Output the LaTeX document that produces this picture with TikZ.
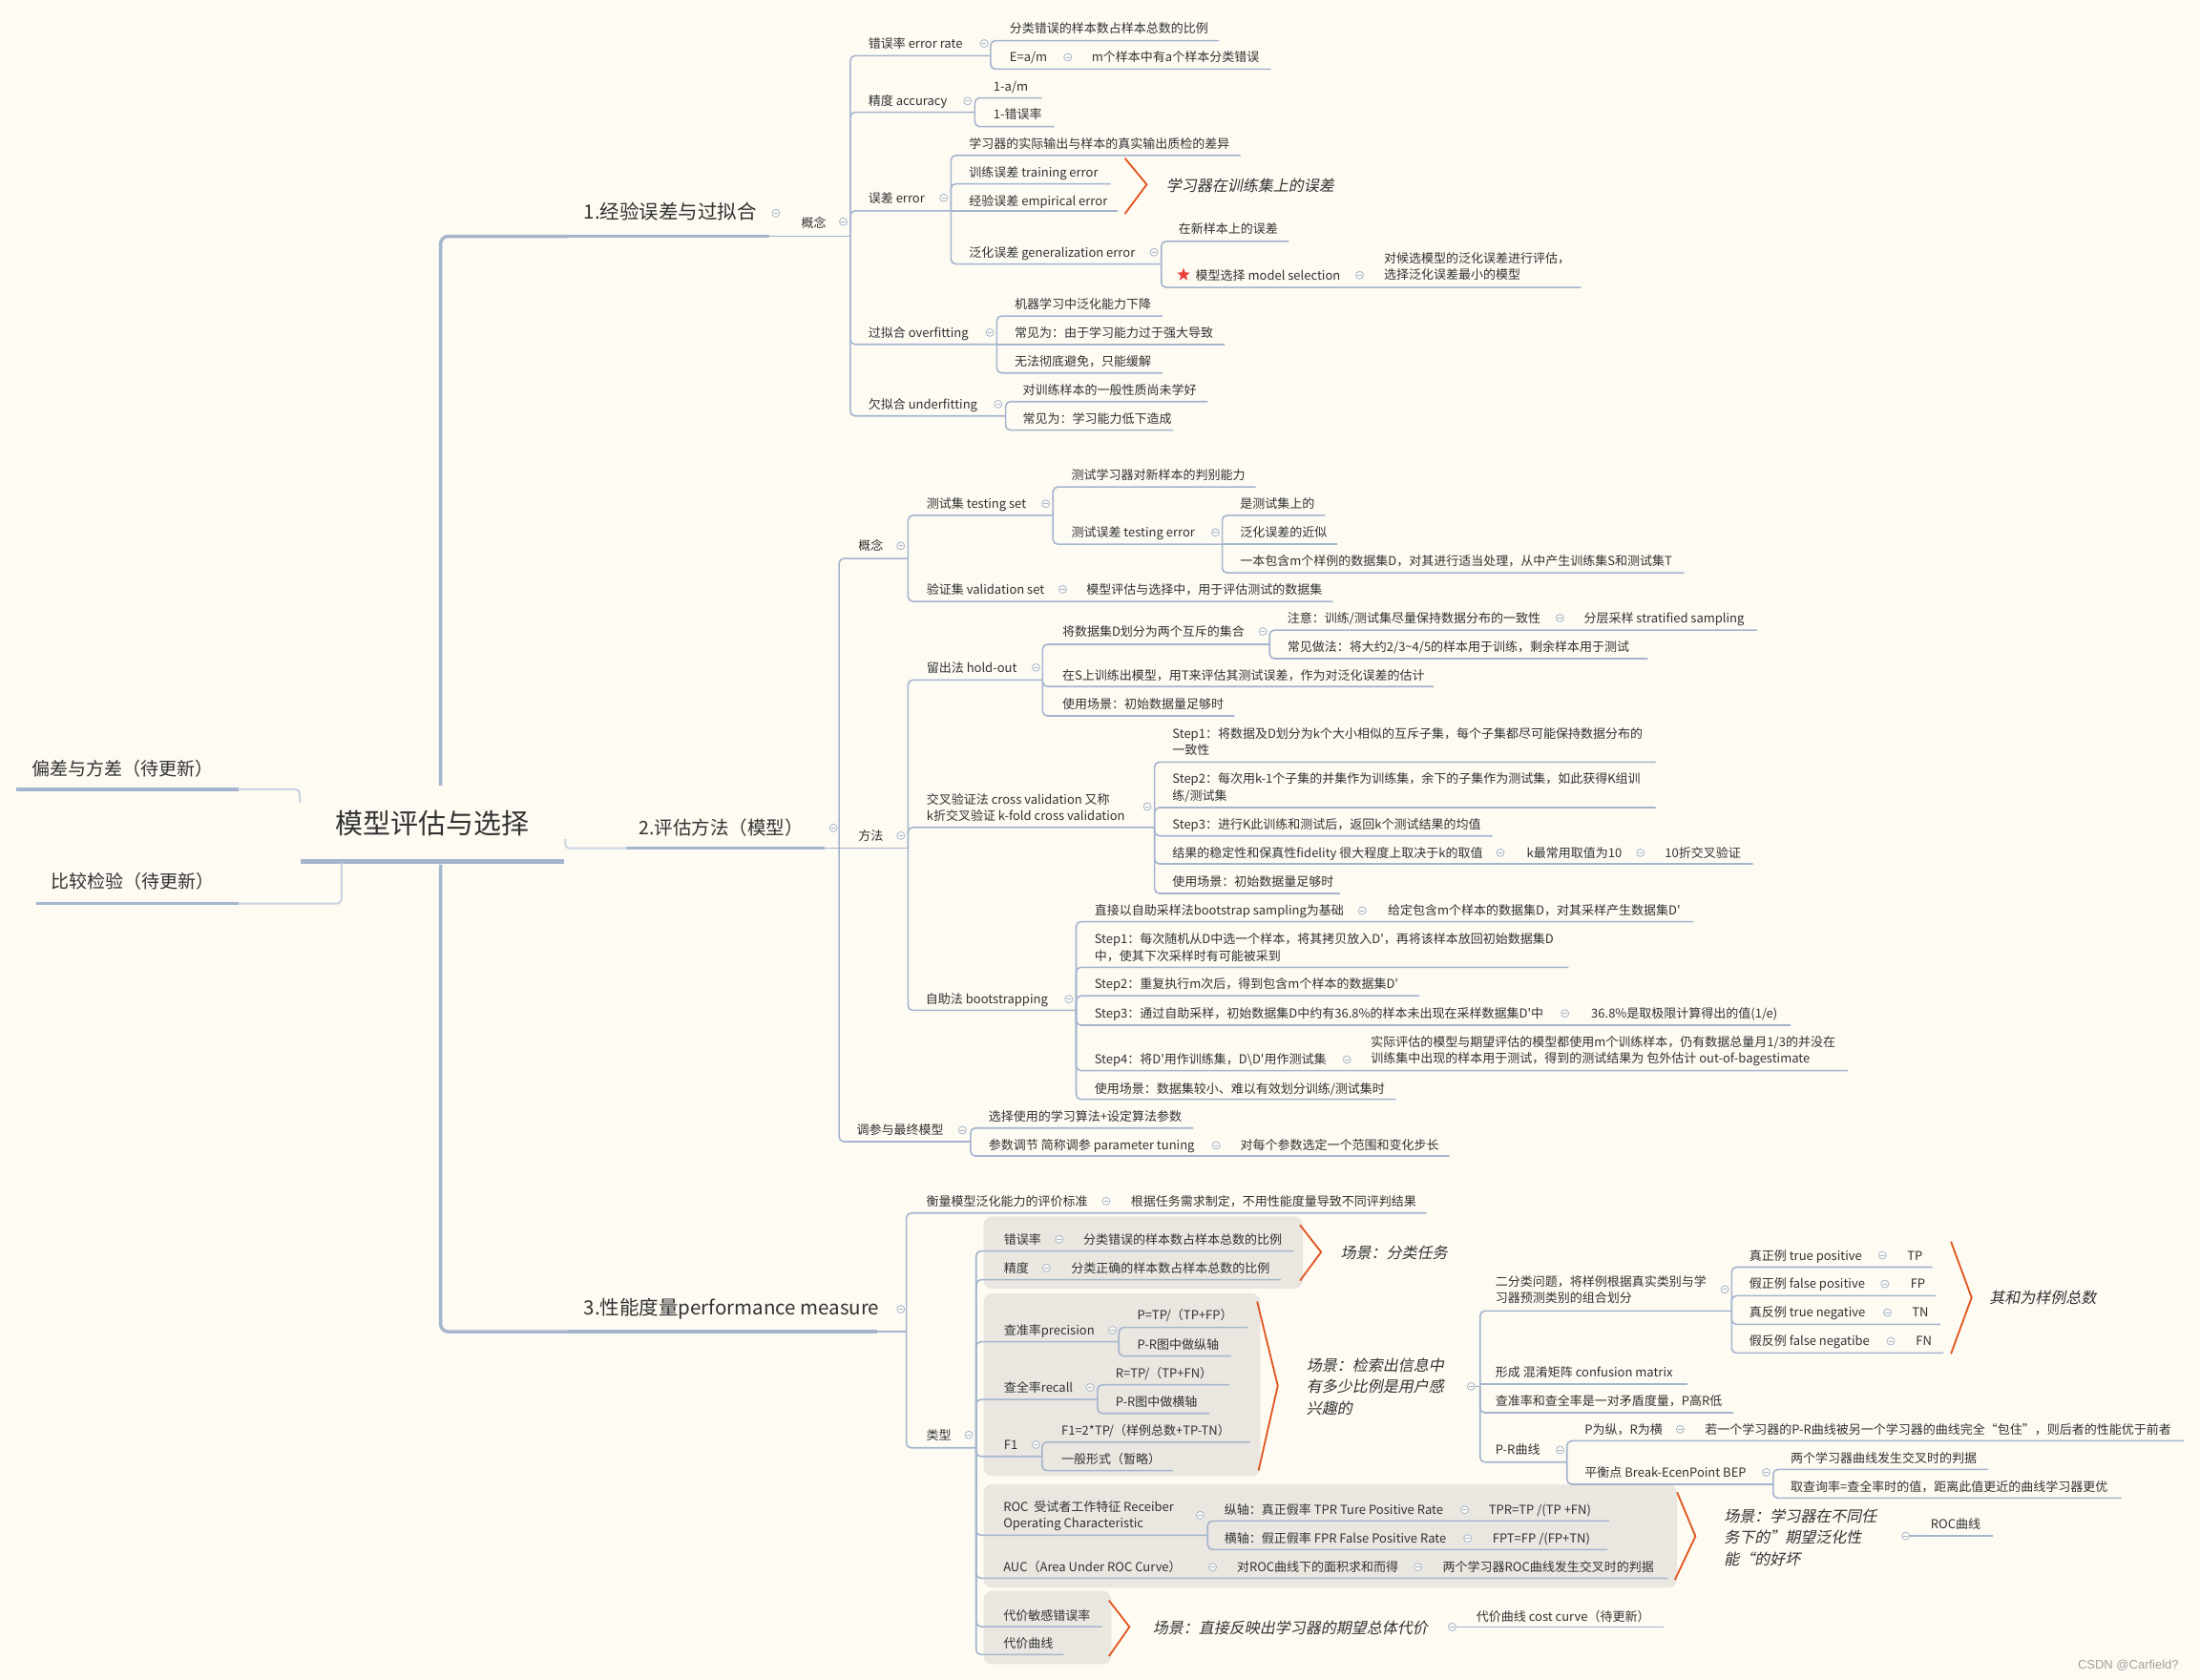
\documentclass[tikz,border=0pt]{standalone}
\usepackage{fontspec}
\setmainfont{Noto Sans CJK SC}[Ligatures=TeXOff]
\newfontfamily\itfont[FakeSlant=0.2,Ligatures=TeXOff]{Noto Sans CJK SC}
\newfontfamily\wmfont{Liberation Sans}
\usetikzlibrary{shapes.geometric}
\definecolor{bg}{RGB}{254,251,243}
\definecolor{lnc}{RGB}{164,181,205}
\definecolor{lnl}{RGB}{200,211,226}
\definecolor{txt}{RGB}{50,50,50}
\definecolor{boxc}{RGB}{234,231,225}
\definecolor{brc}{RGB}{226,84,30}
\definecolor{starc}{RGB}{235,64,58}
\definecolor{wmc}{RGB}{160,160,160}
\newcommand\conn[4]{\draw[ln] (#1,#2) -- (#1,#3) -- (#4,#3);}
\tikzset{
 ln/.style={draw=lnc, line width=1.6pt, rounded corners=5pt},
 tx/.style={anchor=west, inner sep=0pt, text=txt, font=\fontsize{13pt}{17.6pt}\selectfont, text height=11.4pt, text depth=1.6pt},
 txm/.style={anchor=west, inner sep=0pt, text=txt, font=\fontsize{13pt}{17.6pt}\selectfont, align=left},
 itx/.style={anchor=west, inner sep=0pt, text=txt, font=\itfont\fontsize{16pt}{22.4pt}\selectfont, align=left},
 cmk/.style={circle, draw=lnc, fill=bg, line width=0.8pt, minimum size=8pt, inner sep=0pt, path picture={\draw[lnc, line width=0.8pt] ([xshift=-2.2pt]path picture bounding box.center) -- ([xshift=2.2pt]path picture bounding box.center);}},
 brk/.style={draw=brc, line width=1.8pt, line join=miter},
 bx/.style={fill=boxc, rounded corners=9pt},
 thk/.style={draw=lnc, line width=3.5pt},
 big/.style={inner sep=0pt, text=txt},
}
\begin{document}
\begin{tikzpicture}[x=1.47pt,y=-1.47pt]
\fill[bg] (0,0) rectangle (1568,1197);
\useasboundingbox (0,0) rectangle (1568,1197);

% gray boxes
\fill[bx] (701,866.9) rectangle (928.6,918.4);
\fill[bx] (701,921.8) rectangle (898.2,1052);
\fill[bx] (701,1057.8) rectangle (1195.3,1131.5);
\fill[bx] (701,1133.8) rectangle (792,1186);

% root and trunk
\node[big, font=\fontsize{29pt}{34pt}\selectfont] (root) at (308,587) {模型评估与选择};
\draw[draw=lnc, line width=5pt] (214,614) -- (402,614);
\draw[draw=lnc, line width=3.5pt, rounded corners=8pt] (314,560) -- (314,168.4) -- (405,168.4);
\draw[draw=lnc, line width=3.5pt, rounded corners=8pt] (314,616) -- (314,949) -- (405,949);

% left branches
\node[big, anchor=west, font=\fontsize{19pt}{22pt}\selectfont] (lb) at (22.7,548) {偏差与方差（待更新）};
\draw[thk] (11.5,562.4) -- (170,562.4);
\draw[draw=lnl, line width=2pt, rounded corners=5pt] (170,562.4) -- (213.6,562.4) -- (213.6,572);
\node[big, anchor=west, font=\fontsize{19pt}{22pt}\selectfont] (lc) at (36.3,628) {比较检验（待更新）};
\draw[thk] (25.6,644) -- (170,644);
\draw[draw=lnl, line width=2pt, rounded corners=6pt] (170,644) -- (243.5,644) -- (243.5,615);

% ===== branch 1 =====
\node[big, anchor=west, font=\fontsize{20.5pt}{24pt}\selectfont] (b1) at (416,151) {1.经验误差与过拟合};
\draw[thk] (405,168.4) -- (548,168.4);
\draw[ln] (548,168.4) -- (606,168.4);
\node[cmk] (kb1) at (553,152) {};
\node[tx] (s1) at (571,158.6) {概念};
\node[cmk] (ks1) at (601,158) {};

\conn{606}{168.4}{39.7}{706}
\node[tx] (e1) at (618.8,31) {错误率 error rate};
\node[cmk] (ke1) at (701.5,31) {};
\conn{706}{39.7}{29}{868.7}
\node[tx] (e1a) at (719.5,20.4) {分类错误的样本数占样本总数的比例};
\conn{706}{39.7}{49.2}{905.8}
\node[tx] (e1b) at (719.5,40.8) {E=a/m};
\node[cmk] (ke1b) at (761,40.8) {};
\node[tx] (e1c) at (778,40.8) {m个样本中有a个样本分类错误};

\conn{606}{168.4}{80}{694.8}
\node[tx] (e2) at (618.8,72) {精度 accuracy};
\node[cmk] (ke2) at (689.6,72) {};
\conn{694.8}{80}{69.8}{742.6}
\node[tx] (e2a) at (708,61.7) {1-a/m};
\conn{694.8}{80}{90.2}{751.4}
\node[tx] (e2b) at (708,81.6) {1-错误率};

\conn{606}{168.4}{150.3}{677.8}
\node[tx] (e3) at (618.8,141) {误差 error};
\node[cmk] (ke3) at (672.6,141) {};
\conn{677.8}{150.3}{110.7}{884}
\node[tx] (e3a) at (690.6,102.5) {学习器的实际输出与样本的真实输出质检的差异};
\conn{677.8}{150.3}{131}{791.6}
\node[tx] (e3b) at (690.6,123) {训练误差 training error};
\draw[ln] (677.8,150.3) -- (796.5,150.3);
\node[tx] (e3c) at (690.6,143.3) {经验误差 empirical error};
\draw[brk] (801.7,112.7) -- (817.3,131.5) -- (801.7,152.4);
\node[itx] (e3s) at (831,132.2) {学习器在训练集上的误差};
\conn{677.8}{150.3}{188.2}{827.7}
\node[tx] (e3d) at (690.6,179.8) {泛化误差 generalization error};
\node[cmk] (ke3d) at (822.5,179.8) {};
\conn{827.7}{188.2}{171.9}{918.6}
\node[tx] (e3d1) at (839.9,163.3) {在新样本上的误差};
\conn{827.7}{188.2}{204.8}{1126.9}
\node[star, star points=5, star point ratio=2.3, fill=starc, inner sep=0pt, minimum size=14pt] (star) at (843.5,195.8) {};
\node[tx] (e3d2) at (852,196.1) {模型选择 model selection};
\node[cmk] (ke3d2) at (969,196.1) {};
\node[txm] (e3d3) at (986.3,189.8) {对候选模型的泛化误差进行评估，\\选择泛化误差最小的模型};

\conn{606}{168.4}{245.4}{710.4}
\node[tx] (e4) at (618.8,237) {过拟合 overfitting};
\node[cmk] (ke4) at (705.5,237) {};
\conn{710.4}{245.4}{225.2}{828.4}
\node[tx] (e4a) at (723,216.5) {机器学习中泛化能力下降};
\draw[ln] (710.4,245.4) -- (872.8,245.4);
\node[tx] (e4b) at (723,237) {常见为：由于学习能力过于强大导致};
\conn{710.4}{245.4}{265.8}{828.4}
\node[tx] (e4c) at (723,257.4) {无法彻底避免，只能缓解};

\conn{606}{168.4}{296.4}{716.7}
\node[tx] (e5) at (618.8,288) {欠拟合 underfitting};
\node[cmk] (ke5) at (711.4,288) {};
\conn{716.7}{296.4}{286.2}{860.7}
\node[tx] (e5a) at (728.8,277.8) {对训练样本的一般性质尚未学好};
\conn{716.7}{296.4}{306.5}{836}
\node[tx] (e5b) at (728.8,298.2) {常见为：学习能力低下造成};

% ===== branch 2 =====
\draw[draw=lnl, line width=2pt, rounded corners=4pt] (403,598) -- (403,604.5) -- (446,604.5);
\draw[thk] (446,604.5) -- (588,604.5);
\draw[ln] (588,604.5) -- (598,604.5);
\node[big, font=\fontsize{19.5pt}{23pt}\selectfont] (b2) at (513.9,590) {2.评估方法（模型）};
\node[cmk] (kb2) at (594,590) {};

\conn{598}{604.5}{398}{647.2}
\node[tx] (m1) at (611.6,389) {概念};
\node[cmk] (km1) at (642,389) {};
\conn{647.2}{398}{367.3}{750.5}
\node[tx] (m1a) at (660.3,359) {测试集 testing set};
\node[cmk] (km1a) at (745.3,359) {};
\conn{750.5}{367.3}{347}{895}
\node[tx] (m1a1) at (763.5,338.3) {测试学习器对新样本的判别能力};
\conn{750.5}{367.3}{387.8}{871.1}
\node[tx] (m1a2) at (763.5,379.4) {测试误差 testing error};
\node[cmk] (km1a2) at (866.3,379.4) {};
\conn{871.1}{387.8}{367.3}{944.4}
\node[tx] (m1a2a) at (883.7,359) {是测试集上的};
\draw[ln] (871.1,387.8) -- (953,387.8);
\node[tx] (m1a2b) at (883.7,379.4) {泛化误差的近似};
\conn{871.1}{387.8}{408.2}{1200.4}
\node[tx] (m1a2c) at (883.7,399.5) {一本包含m个样例的数据集D，对其进行适当处理，从中产生训练集S和测试集T};
\conn{647.2}{398}{428.6}{950}
\node[tx] (m1b) at (660.3,420) {验证集 validation set};
\node[cmk] (km1b) at (757.4,420) {};
\node[tx] (m1b1) at (774.3,420) {模型评估与选择中，用于评估测试的数据集};

\draw[ln] (598,604.5) -- (647.2,604.5);
\node[tx] (m2) at (611.6,595.5) {方法};
\node[cmk] (km2) at (642,595.5) {};

\conn{647.2}{604.5}{484.6}{743.1}
\node[tx] (h) at (660.3,475.7) {留出法 hold-out};
\node[cmk] (kh) at (738.4,475.7) {};
\conn{743.1}{484.6}{459.2}{904.9}
\node[tx] (h1) at (757,450) {将数据集D划分为两个互斥的集合};
\node[cmk] (kh1) at (900.1,450) {};
\conn{904.9}{459.2}{449}{1252.4}
\node[tx] (h1a) at (917.5,440.4) {注意：训练/测试集尽量保持数据分布的一致性};
\node[cmk] (kh1a) at (1111.8,440.4) {};
\node[tx] (h1a1) at (1128.8,440.4) {分层采样 stratified sampling};
\conn{904.9}{459.2}{469.4}{1174.4}
\node[tx] (h1b) at (917.5,460.8) {常见做法：将大约2/3\textasciitilde 4/5的样本用于训练，剩余样本用于测试};
\conn{743.1}{484.6}{489.3}{1021.6}
\node[tx] (h2) at (757,481.2) {在S上训练出模型，用T来评估其测试误差，作为对泛化误差的估计};
\conn{743.1}{484.6}{510.2}{879.8}
\node[tx] (h3) at (757,501.6) {使用场景：初始数据量足够时};

\conn{647.2}{604.5}{589.6}{822.9}
\node[txm] (cv) at (660.3,575.6) {交叉验证法 cross validation 又称\\k折交叉验证 k-fold cross validation};
\node[cmk] (kcv) at (817.7,574.8) {};
\conn{822.9}{589.6}{543.1}{1180}
\node[txm] (cv1) at (835.5,528.7) {Step1：将数据及D划分为k个大小相似的互斥子集，每个子集都尽可能保持数据分布的\\一致性};
\conn{822.9}{589.6}{575.5}{1180}
\node[txm] (cv2) at (835.5,561.2) {Step2：每次用k-1个子集的并集作为训练集，余下的子集作为测试集，如此获得K组训\\练/测试集};
\conn{822.9}{589.6}{595.7}{1063.7}
\node[tx] (cv3) at (835.5,587.8) {Step3：进行K此训练和测试后，返回k个测试结果的均值};
\conn{822.9}{589.6}{615.6}{1249.4}
\node[tx] (cv4) at (835.5,607.7) {结果的稳定性和保真性fidelity 很大程度上取决于k的取值};
\node[cmk] (kcv4) at (1069.4,607.7) {};
\node[tx] (cv4a) at (1088,607.7) {k最常用取值为10};
\node[cmk] (kcv4a) at (1169.2,607.7) {};
\node[tx] (cv4b) at (1186.5,607.7) {10折交叉验证};
\conn{822.9}{589.6}{636.7}{955}
\node[tx] (cv5) at (835.5,628.1) {使用场景：初始数据量足够时};

\conn{647.2}{604.5}{720}{767}
\node[tx] (bs) at (659.7,712) {自助法 bootstrapping};
\node[cmk] (kbs) at (761.8,712) {};
\conn{767}{720}{656.9}{1207}
\node[tx] (bs0) at (780,649) {直接以自助采样法bootstrap sampling为基础};
\node[cmk] (kbs0) at (970.9,649) {};
\node[tx] (bs0a) at (989,649) {给定包含m个样本的数据集D，对其采样产生数据集D'};
\conn{767}{720}{689.3}{1117.9}
\node[txm] (bs1) at (780,675.4) {Step1：每次随机从D中选一个样本，将其拷贝放入D'，再将该样本放回初始数据集D\\中，使其下次采样时有可能被采到};
\conn{767}{720}{709.7}{1011.4}
\node[tx] (bs2) at (780,701.1) {Step2：重复执行m次后，得到包含m个样本的数据集D'};
\conn{767}{720}{730.6}{1276}
\node[tx] (bs3) at (780,722.2) {Step3：通过自助采样，初始数据集D中约有36.8\%的样本未出现在采样数据集D'中};
\node[cmk] (kbs3) at (1115.4,722.2) {};
\node[tx] (bs3a) at (1134,722.2) {36.8\%是取极限计算得出的值(1/e)};
\conn{767}{720}{763}{1316.8}
\node[tx] (bs4) at (780,755.1) {Step4：将D'用作训练集，D\textbackslash D'用作测试集};
\node[cmk] (kbs4) at (959.9,755.1) {};
\node[txm] (bs4a) at (977,749) {实际评估的模型与期望评估的模型都使用m个训练样本，仍有数据总量月1/3的并没在\\训练集中出现的样本用于测试，得到的测试结果为 包外估计 out-of-bagestimate};
\conn{767}{720}{783.4}{994.8}
\node[tx] (bs5) at (780,776) {使用场景：数据集较小、难以有效划分训练/测试集时};

\conn{598}{604.5}{813.6}{691.7}
\node[tx] (tp) at (610.5,805.4) {调参与最终模型};
\node[cmk] (ktp) at (686,805.4) {};
\conn{691.7}{813.6}{803.9}{850.6}
\node[tx] (tp1) at (704.6,795.9) {选择使用的学习算法+设定算法参数};
\conn{691.7}{813.6}{823.8}{1033}
\node[tx] (tp2) at (704.6,816.3) {参数调节 简称调参 parameter tuning};
\node[cmk] (ktp2) at (866.8,816.3) {};
\node[tx] (tp2a) at (884,816.3) {对每个参数选定一个范围和变化步长};

% ===== branch 3 =====
\node[big, anchor=west, font=\fontsize{20.5pt}{24pt}\selectfont] (b3) at (416,933) {3.性能度量performance measure};
\draw[thk] (405,949) -- (625,949);
\draw[ln] (625,949) -- (646,949);
\node[cmk] (kb3) at (642,933) {};

\conn{646}{949}{864.4}{1016.7}
\node[tx] (p1) at (660.2,856) {衡量模型泛化能力的评价标准};
\node[cmk] (kp1) at (788.3,856) {};
\node[tx] (p1a) at (805.9,856) {根据任务需求制定，不用性能度量导致不同评判结果};
\conn{646}{949}{1031.8}{695.7}
\node[tx] (p2) at (660.2,1022.6) {类型};
\node[cmk] (kp2) at (690.5,1022.6) {};

\conn{695.7}{1031.8}{891.6}{921.9}
\node[tx] (q1) at (715.4,883.2) {错误率};
\node[cmk] (kq1) at (754.8,883.2) {};
\node[tx] (q1a) at (772.1,883.2) {分类错误的样本数占样本总数的比例};
\conn{695.7}{1031.8}{912}{912.8}
\node[tx] (q2) at (715.4,903.6) {精度};
\node[cmk] (kq2) at (745.8,903.6) {};
\node[tx] (q2a) at (763.4,903.6) {分类正确的样本数占样本总数的比例};
\draw[brk] (926.5,873) -- (941.6,892.3) -- (926.5,912.7);
\node[itx] (q12s) at (955.3,893) {场景：分类任务};

\conn{695.7}{1031.8}{956.2}{797.4}
\node[tx] (q3) at (715.4,947.8) {查准率precision};
\node[cmk] (kq3) at (792.8,947.8) {};
\conn{797.4}{956.2}{946}{889.4}
\node[tx] (q3a) at (810.4,937.2) {P=TP/（TP+FP）};
\conn{797.4}{956.2}{966.4}{877.3}
\node[tx] (q3b) at (810.4,958) {P-R图中做纵轴};
\conn{695.7}{1031.8}{997.3}{782.2}
\node[tx] (q4) at (715.4,988.7) {查全率recall};
\node[cmk] (kq4) at (777,988.7) {};
\conn{782.2}{997.3}{986.8}{876.3}
\node[tx] (q4a) at (795,978.7) {R=TP/（TP+FN）};
\conn{782.2}{997.3}{1007.3}{861.8}
\node[tx] (q4b) at (795,998.9) {P-R图中做横轴};
\conn{695.7}{1031.8}{1037.9}{742.7}
\node[tx] (q5) at (715.4,1029.5) {F1};
\node[cmk] (kq5) at (738.2,1029.5) {};
\conn{742.7}{1037.9}{1027.7}{890.9}
\node[tx] (q5a) at (756.4,1019.3) {F1=2*TP/（样例总数+TP-TN）};
\conn{742.7}{1037.9}{1048}{836}
\node[tx] (q5b) at (756.4,1039.5) {一般形式（暂略）};
\draw[brk] (896,927.5) -- (910.7,987.5) -- (897,1048);
\node[itx] (q35s) at (931,988.1) {场景：检索出信息中\\有多少比例是用户感\\兴趣的};

\draw[ln] (1048.5,988) -- (1054.9,988);
\node[cmk] (kq35s) at (1048.5,988) {};
\conn{1054.9}{988}{934.2}{1234.2}
\node[txm] (r1) at (1065.8,919) {二分类问题，将样例根据真实类别与学\\习器预测类别的组合划分};
\node[cmk] (kr1) at (1229.3,918.9) {};
\conn{1234.2}{934.2}{903}{1377.3}
\node[tx] (r1a) at (1246.7,894.6) {真正例 true positive};
\node[cmk] (kr1a) at (1341.7,894.6) {};
\node[tx] (r1at) at (1359.2,894.6) {TP};
\conn{1234.2}{934.2}{923.4}{1379.4}
\node[tx] (r1b) at (1246.7,915) {假正例 false positive};
\node[cmk] (kr1b) at (1343.4,915) {};
\node[tx] (r1bt) at (1361.6,915) {FP};
\conn{1234.2}{934.2}{943.8}{1383}
\node[tx] (r1c) at (1246.7,935.4) {真反例 true negative};
\node[cmk] (kr1c) at (1345.2,935.4) {};
\node[tx] (r1ct) at (1362.6,935.4) {TN};
\conn{1234.2}{934.2}{964.2}{1385.3}
\node[tx] (r1d) at (1246.7,955.8) {假反例 false negatibe};
\node[cmk] (kr1d) at (1347.6,955.8) {};
\node[tx] (r1dt) at (1365.4,955.8) {FN};
\draw[brk] (1390.5,884.8) -- (1405.2,924.7) -- (1390.5,964.8);
\node[itx] (r1s) at (1417.8,924.7) {其和为样例总数};
\draw[ln] (1054.9,986.4) -- (1202.7,986.4);
\node[tx] (r2) at (1065.8,977.8) {形成 混淆矩阵 confusion matrix};
\conn{1054.9}{988}{1006.8}{1235.2}
\node[tx] (r3) at (1065.8,998.2) {查准率和查全率是一对矛盾度量，P高R低};
\conn{1054.9}{988}{1042}{1116.8}
\node[tx] (r4) at (1065.8,1033.3) {P-R曲线};
\node[cmk] (kr4) at (1111.9,1033.3) {};
\conn{1116.8}{1042}{1026.8}{1556.5}
\node[tx] (r4a) at (1129.4,1018.6) {P为纵，R为横};
\node[cmk] (kr4a) at (1197.5,1018.6) {};
\node[tx] (r4a1) at (1215,1018.6) {若一个学习器的P-R曲线被另一个学习器的曲线完全“包住”，则后者的性能优于前者};
\conn{1116.8}{1042}{1057.8}{1263.8}
\node[tx] (r4b) at (1129.4,1049.2) {平衡点 Break-EcenPoint BEP};
\node[cmk] (kr4b) at (1258.9,1049.2) {};
\conn{1263.8}{1057.8}{1047.2}{1416.7}
\node[tx] (r4b1) at (1276.1,1039) {两个学习器曲线发生交叉时的判据};
\conn{1263.8}{1057.8}{1067.6}{1512.1}
\node[tx] (r4b2) at (1276.1,1059.4) {取查询率=查全率时的值，距离此值更近的曲线学习器更优};

\conn{695.7}{1031.8}{1094.1}{860.7}
\node[txm] (u1) at (715,1080.2) {ROC\ \ 受试者工作特征 Receiber\\Operating Characteristic};
\node[cmk] (ku1) at (855.4,1079.8) {};
\conn{860.7}{1094.1}{1083.9}{1147}
\node[tx] (u1a) at (872.6,1076) {纵轴：真正假率 TPR Ture Positive Rate};
\node[cmk] (ku1a) at (1043.9,1076) {};
\node[tx] (u1a1) at (1061,1076) {TPR=TP /(TP +FN)};
\conn{860.7}{1094.1}{1104.3}{1145.4}
\node[tx] (u1b) at (872.6,1096.4) {横轴：假正假率 FPR False Positive Rate};
\node[cmk] (ku1b) at (1046,1096.4) {};
\node[tx] (u1b1) at (1063.7,1096.4) {FPT=FP /(FP+TN)};
\conn{695.7}{1031.8}{1124.7}{1188.6}
\node[tx] (u2) at (715,1116.8) {AUC（Area Under ROC Curve）};
\node[cmk] (ku2) at (864.3,1116.8) {};
\node[tx] (u2a) at (881.5,1116.8) {对ROC曲线下的面积求和而得};
\node[cmk] (ku2a) at (1010.5,1116.8) {};
\node[tx] (u2b) at (1028.2,1116.8) {两个学习器ROC曲线发生交叉时的判据};
\draw[brk] (1195.3,1063.5) -- (1208.4,1094.8) -- (1193.7,1125.9);
\node[itx] (u12s) at (1228.6,1095.6) {场景：学习器在不同任\\务下的”期望泛化性\\能“的好坏};
\draw[ln] (1358.2,1094.6) -- (1420.2,1094.6);
\node[cmk] (ku12s) at (1358.2,1094.6) {};
\node[tx] (u12a) at (1376,1086.2) {ROC曲线};

\conn{695.7}{1031.8}{1159.2}{785.2}
\node[tx] (c1) at (715,1151.5) {代价敏感错误率};
\conn{695.7}{1031.8}{1179.1}{758.1}
\node[tx] (c2) at (715,1171.2) {代价曲线};
\draw[brk] (790.4,1140.6) -- (805,1159.4) -- (790.4,1180.3);
\node[itx] (c12s) at (821.6,1160.3) {场景：直接反映出学习器的期望总体代价};
\draw[ln] (1035,1159.4) -- (1186,1159.4);
\node[cmk] (kc12s) at (1035,1159.4) {};
\node[tx] (c12a) at (1052.2,1151.9) {代价曲线 cost curve（待更新）};

\node[anchor=west, inner sep=0pt, font=\wmfont\fontsize{13pt}{15pt}\selectfont, text=wmc] (wm) at (1480.8,1187) {CSDN @Carfield?};
\end{tikzpicture}
\end{document}
